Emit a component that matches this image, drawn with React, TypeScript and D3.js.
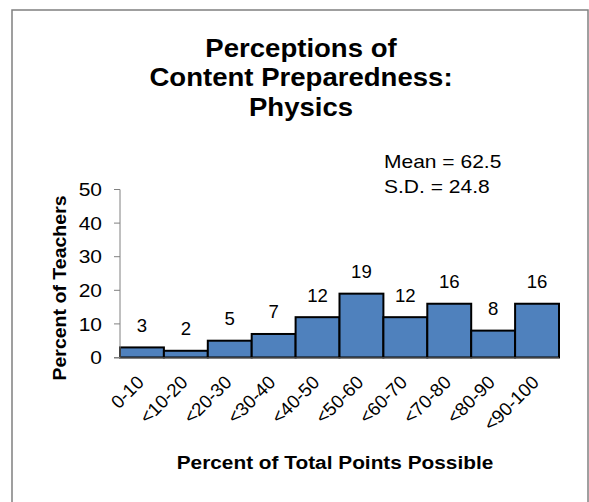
import React from "react";
import * as d3 from "d3";

const categories = ["0-10", "<10-20", "<20-30", "<30-40", "<40-50", "<50-60", "<60-70", "<70-80", "<80-90", "<90-100"];
const values = [3, 2, 5, 7, 12, 19, 12, 16, 8, 16];
const yTicks = [0, 10, 20, 30, 40, 50];
const titleLines = ["Perceptions of", "Content Preparedness:", "Physics"];
const statLines = ["Mean = 62.5", "S.D. = 24.8"];

const W = 589, H = 502;
const left = 120, right = 559, top = 189.5, bottom = 357.5;
const font = "'Liberation Sans', Arial, sans-serif";

function T(props: { x: number; y: number; sx?: number; rot?: number; size: number; anchor?: string; bold?: boolean; children: React.ReactNode }) {
  const { x, y, sx = 1, rot = 0, size, anchor = "start", bold = false, children } = props;
  return (
    <text transform={`translate(${x} ${y}) rotate(${rot}) scale(${sx} 1)`} fontSize={size} textAnchor={anchor}
      fontWeight={bold ? "bold" : "normal"} fill="#000">{children}</text>
  );
}

export default function App() {
  const x = d3.scaleBand<string>().domain(categories).range([left, right]).padding(0);
  const y = d3.scaleLinear().domain([0, 50]).range([bottom, top]);
  return (
    <svg width={W} height={H} style={{ position: "absolute", left: 0, top: 0 }} fontFamily={font}>
      <rect x={0} y={0} width={W} height={H} fill="#fff" />
      <rect x={12} y={10} width={576} height={510} fill="none" stroke="#808080" strokeWidth={1.5} />
      {titleLines.map((t, i) => (
        <T key={t} x={301} y={56.7 + i * 29.6} size={26} sx={1.06} anchor="middle" bold>{t}</T>
      ))}
      {statLines.map((t, i) => (
        <T key={t} x={384} y={168 + i * 24.6} size={18.6} sx={1.13}>{t}</T>
      ))}
      {categories.map((c, i) => (
        <rect key={c} x={x(c)!} y={y(values[i])} width={x.bandwidth()} height={bottom - y(values[i])}
          fill="#4F81BD" stroke="#000" strokeWidth={2} />
      ))}
      {categories.map((c, i) => (
        <T key={c + "v"} x={x(c)! + x.bandwidth() / 2} y={y(values[i]) - 15.5} size={18.6} anchor="middle">{values[i]}</T>
      ))}
      <line x1={left} x2={left} y1={top} y2={bottom} stroke="#808080" strokeWidth={1} />
      <line x1={left - 6} x2={right} y1={bottom + 0.5} y2={bottom + 0.5} stroke="#808080" strokeWidth={1} />
      {yTicks.map(t => (
        <g key={t}>
          <line x1={left - 6} x2={left} y1={y(t)} y2={y(t)} stroke="#808080" />
          <T x={left - 18} y={y(t) + 6.7} size={18.6} sx={1.13} anchor="end">{t}</T>
        </g>
      ))}
      {categories.map(c => (
        <T key={c + "l"} x={x(c)! + x.bandwidth() / 2 + 3} y={bottom + 26} rot={-45} size={18.6} anchor="end">{c}</T>
      ))}
      <T x={335} y={469.3} size={18.6} sx={1.12} anchor="middle" bold>Percent of Total Points Possible</T>
      <T x={66} y={288} rot={-90} size={18.6} sx={1.05} anchor="middle" bold>Percent of Teachers</T>
    </svg>
  );
}
